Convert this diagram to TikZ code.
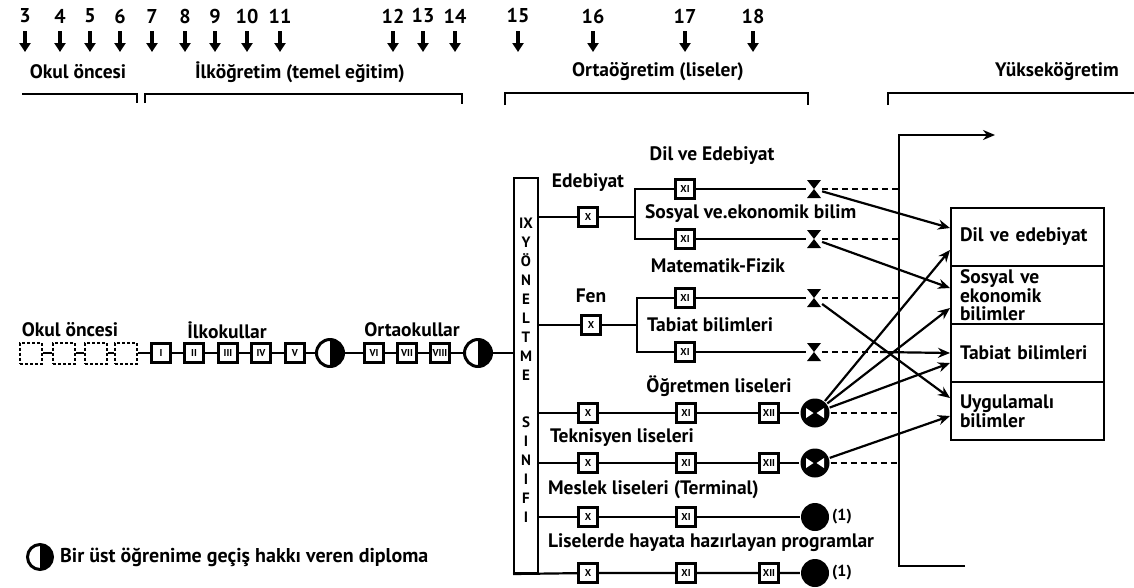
\documentclass[tikz,border=0pt]{standalone}
\usepackage{fontspec}
\setmainfont{PT Sans}
\usepackage{tikz}
\usetikzlibrary{arrows.meta,positioning,calc}

\begin{document}
\begin{tikzpicture}[x=1pt,y=-1pt,>={Stealth[length=12pt,width=10pt]},line width=2.2pt,
  lab/.style={font=\bfseries\fontsize{19.5}{22}\selectfont,inner sep=1pt},
  yr/.style={font=\bfseries\fontsize{20}{22}\selectfont,inner sep=0pt},
  yarr/.style={-{Triangle[length=9pt,width=11pt]},line width=4pt},
  gr/.style={draw,line width=2.6pt,minimum width=19,minimum height=19,inner sep=0pt,font=\bfseries\fontsize{10}{10}\selectfont},
  pre/.style={draw,densely dashed,line width=2pt,minimum width=22,minimum height=21,inner sep=0pt},
  dip/.style={circle,draw,line width=3pt,minimum size=27,inner sep=0pt,
    path picture={\fill (path picture bounding box.north) rectangle (path picture bounding box.south east);}},
  hg/.style={minimum width=14,minimum height=18,inner sep=0pt,
    path picture={\fill (path picture bounding box.north west) -- (path picture bounding box.north east)
      -- (path picture bounding box.south west) -- (path picture bounding box.south east) -- cycle;}},
  cert/.style={circle,fill,minimum size=29,inner sep=0pt,
    path picture={\fill[white] ([xshift=-9pt,yshift=5pt]path picture bounding box.center) -- ++(0,-10pt)
      -- ([xshift=-1.5pt]path picture bounding box.center) -- cycle;
      \fill[white] ([xshift=9pt,yshift=5pt]path picture bounding box.center) -- ++(0,-10pt)
      -- ([xshift=1.5pt]path picture bounding box.center) -- cycle;}},
  term/.style={circle,fill,minimum size=28,inner sep=0pt},
  fld/.style={draw,line width=2pt,minimum width=153,minimum height=58,text width=135,inner xsep=9pt,
    align=left,font=\bfseries\fontsize{19.5}{17.5}\selectfont},
  dsh/.style={dash pattern=on 6pt off 4pt}]
  \useasboundingbox (0,0) rectangle (1134,587);
  % ages
  \foreach \yy/\xx in {3/25,4/60,5/90,6/120,7/152,8/185,9/215,10/247,11/280,12/393,13/423,14/455,15/518,16/593,17/685,18/753}{
    \node[yr] (y\yy) at (\xx,16) {\yy};
    \draw[yarr] (\xx,31) -- (\xx,52);
  }
  % stages
  \node[lab] (s1) at (78,72) {Okul öncesi};
  \node[lab] (s2) at (300,72) {İlköğretim (temel eğitim)};
  \node[lab] (s3) at (658,72) {Ortaöğretim (liseler)};
  \node[lab] (s4) at (1057,72) {Yükseköğretim};
  \draw (22,94) -- (137,94) -- (137,103);
  \draw (145,103) -- (145,94) -- (462,94) -- (462,104);
  \draw (505,105) -- (505,93) -- (808,93) -- (808,105);
  \draw (888,105) -- (888,93) -- (1134,93);
  % main line
  \node[lab] (lpre) at (70,330) {Okul öncesi};
  \node[lab] (lilk) at (227,330) {İlkokullar};
  \node[lab] (lort) at (412,330) {Ortaokullar};
  \foreach \i/\xx in {1/31,2/64,3/96,4/126} \node[pre] (p\i) at (\xx,353) {};
  \node[gr] (g1) at (161,353) {I};
  \node[gr] (g2) at (194,353) {II};
  \node[gr] (g3) at (228,353) {III};
  \node[gr] (g4) at (261,353) {IV};
  \node[gr] (g5) at (295,353) {V};
  \node[dip] (d1) at (330,353) {};
  \node[gr] (g6) at (374,353) {VI};
  \node[gr] (g7) at (407,353) {VII};
  \node[gr] (g8) at (440,353) {VIII};
  \node[dip] (d2) at (478,353) {};
  % yoneltme sinifi
  \node[draw,line width=2pt,minimum width=24,minimum height=395,inner sep=0pt] (yon) at (526,375.5) {};
  \node[font=\bfseries\fontsize{15}{19}\selectfont,align=center,inner sep=0pt] (yont) at (526,370)
    {IX\\Y\\Ö\\N\\E\\L\\T\\M\\E\\[28pt]S\\I\\N\\I\\F\\I};
  \draw (p1) -- (p2) -- (p3) -- (p4) -- (g1) -- (g2) -- (g3) -- (g4) -- (g5) -- (d1)
    -- (g6) -- (g7) -- (g8) -- (d2) -- (yon.west |- d2);
  % Edebiyat
  \node[lab] (ldil) at (712,156) {Dil ve Edebiyat};
  \node[lab] (ledb) at (588,183) {Edebiyat};
  \node[lab,anchor=west] (lsos) at (643,214) {Sosyal ve.ekonomik bilim};
  \node[gr] (e10) at (588,217) {X};
  \coordinate (eb) at (635,217);
  \node[gr] (e11a) at (685,189) {XI};
  \node[gr] (e11b) at (685,239) {XI};
  \node[hg] (h1) at (814,189) {};
  \node[hg] (h2) at (814,239) {};
  \draw (yon.east |- e10) -- (e10) -- (eb);
  \draw (e11a) -- (e11a -| eb) -- (e11b -| eb) -- (e11b);
  \draw (e11a) -- (h1);
  \draw (e11b) -- (h2);
  % Fen
  \node[lab] (lmat) at (718,266) {Matematik-Fizik};
  \node[lab] (lfen) at (591,296) {Fen};
  \node[lab,anchor=west] (ltab) at (645,325) {Tabiat bilimleri};
  \node[gr] (f10) at (591,325) {X};
  \coordinate (fb) at (637,325);
  \node[gr] (f11a) at (685,298) {XI};
  \node[gr] (f11b) at (685,352) {XI};
  \node[hg] (h3) at (814,298) {};
  \node[hg] (h4) at (814,352) {};
  \draw (yon.east |- f10) -- (f10) -- (fb);
  \draw (f11a) -- (f11a -| fb) -- (f11b -| fb) -- (f11b);
  \draw (f11a) -- (h3);
  \draw (f11b) -- (h4);
  % Ogretmen liseleri
  \node[lab] (logr) at (719,386) {Öğretmen liseleri};
  \node[gr] (o10) at (588,413) {X};
  \node[gr] (o11) at (686,413) {XI};
  \node[gr] (o12) at (769,413) {XII};
  \node[cert] (c1) at (815,413) {};
  \draw (yon.east |- o10) -- (o10) -- (o11) -- (o12) -- (c1);
  % Teknisyen liseleri
  \node[lab,anchor=west] (ltek) at (548,438) {Teknisyen liseleri};
  \node[gr] (t10) at (588,463) {X};
  \node[gr] (t11) at (686,463) {XI};
  \node[gr] (t12) at (769,463) {XII};
  \node[cert] (c2) at (815,463) {};
  \draw (yon.east |- t10) -- (t10) -- (t11) -- (t12) -- (c2);
  % Meslek liseleri
  \node[lab,anchor=west] (lmes) at (546,490) {Meslek liseleri (Terminal)};
  \node[gr] (m10) at (588,517) {X};
  \node[gr] (m11) at (686,517) {XI};
  \node[term,label={[lab,font=\bfseries\fontsize{16}{18}\selectfont]right:(1)}] (k1) at (815,517) {};
  \draw (yon.east |- m10) -- (m10) -- (m11) -- (k1);
  % hayata hazirlayan
  \node[lab,anchor=west] (lhay) at (546,543) {Liselerde hayata hazırlayan programlar};
  \node[gr] (l10) at (588,573) {X};
  \node[gr] (l11) at (686,573) {XI};
  \node[gr] (l12) at (769,573) {XII};
  \node[term,label={[lab,font=\bfseries\fontsize{16}{18}\selectfont]right:(1)}] (k2) at (815,573) {};
  \draw (yon.south west) -- (l10) -- (l11) -- (l12) -- (k2);
  % yuksekogretim
  \node[fld] (y1) at (1027.5,237) {Dil ve edebiyat};
  \node[fld] (y2) at (1027.5,295) {Sosyal ve\\ekonomik\\bilimler};
  \node[fld] (y3) at (1027.5,353) {Tabiat bilimleri};
  \node[fld] (y4) at (1027.5,411) {Uygulamalı\\bilimler};
  \coordinate (vt) at (899,135);
  \coordinate (vb) at (899,566);
  \coordinate (vr) at (995,135);
  \coordinate (vbr) at (965,566);
  \draw[->] (vbr) -- (vb) -- (vt) -- (vr);
  \foreach \h in {h1,h2,h3,h4,c1,c2} \draw[dsh] (\h) -- (\h -| vt);
  \draw[->] (h1) -- ([yshift=9pt]y1.west);
  \draw[->] (h2) -- ([yshift=7pt]y2.west);
  \draw[->] (h3) -- ([yshift=13pt]y4.west);
  \draw[->] (880,352) -- (y3.west);
  \draw[->] (c1) -- ([yshift=-13pt]y1.west);
  \draw[->] (c1) -- ([yshift=-13pt]y2.west);
  \draw[->] (c1) -- ([yshift=-10pt]y3.west);
  \draw[->] (c2) -- ([yshift=-5pt]y4.west);
  % legend
  \node[dip,minimum size=25] (ldip) at (40,557) {};
  \node[lab,anchor=west,font=\bfseries\fontsize{20}{22}\selectfont] (ltxt) at (58,557) {Bir üst öğrenime geçiş hakkı veren diploma};
\end{tikzpicture}
\end{document}
